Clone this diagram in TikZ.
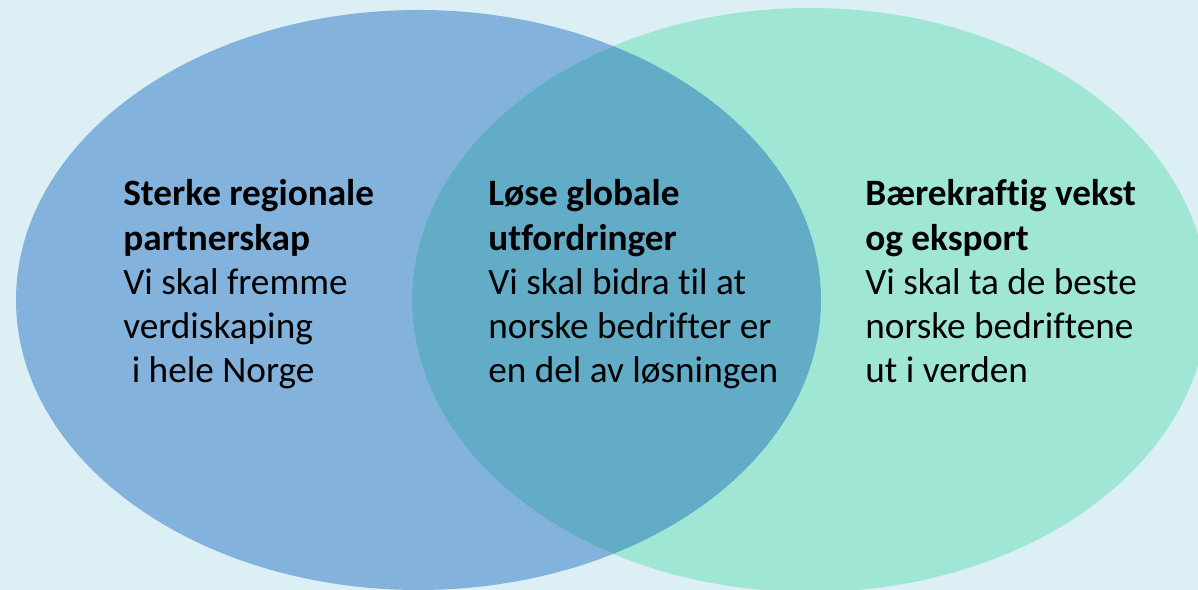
\documentclass[tikz,border=0pt]{standalone}
\usepackage{fontspec}
\setmainfont{Carlito}[Ligatures=NoCommon]
\usepackage{xcolor}

\definecolor{bgSky}{HTML}{DCEFF5}
\definecolor{leftBlue}{HTML}{83B2DC}
\definecolor{rightGreen}{HTML}{A0E6D5}
\definecolor{midTeal}{HTML}{62ACC7}

\begin{document}
\begin{tikzpicture}[x=0.02cm, y=0.02cm]
        % stiler
        \tikzset{colText/.style={anchor=base west, align=left, inner sep=0pt, text=black,
            font=\fontsize{21.2}{25.2}\selectfont}}

        % bakgrunn
        \fill[bgSky] (0,0) rectangle (1198,590);
        \useasboundingbox (0,0) rectangle (1198,590);

        % de to ellipsene og overlappet
        \fill[leftBlue] (418.5,290) ellipse [x radius=402.5, y radius=290];
        \fill[rightGreen] (810,290) ellipse [x radius=398, y radius=292];
        \begin{scope}
            \clip (418.5,290) ellipse [x radius=402.5, y radius=290];
            \fill[midTeal] (810,290) ellipse [x radius=398, y radius=292];
        \end{scope}

        % tekst (base = siste linje)
        \node[colText] (regional) at (123,207)
            {\textbf{Sterke regionale}\\\textbf{partnerskap}\\Vi skal fremme\\verdiskaping\\\ i hele Norge};
        \node[colText] (global) at (488,207)
            {\textbf{Løse globale}\\\textbf{utfordringer}\\Vi skal bidra til at\\norske bedrifter er\\en del av løsningen};
        \node[colText] (export) at (865,207)
            {\textbf{Bærekraftig vekst}\\\textbf{og eksport}\\Vi skal ta de beste\\norske bedriftene\\ut i verden};
\end{tikzpicture}
\end{document}
